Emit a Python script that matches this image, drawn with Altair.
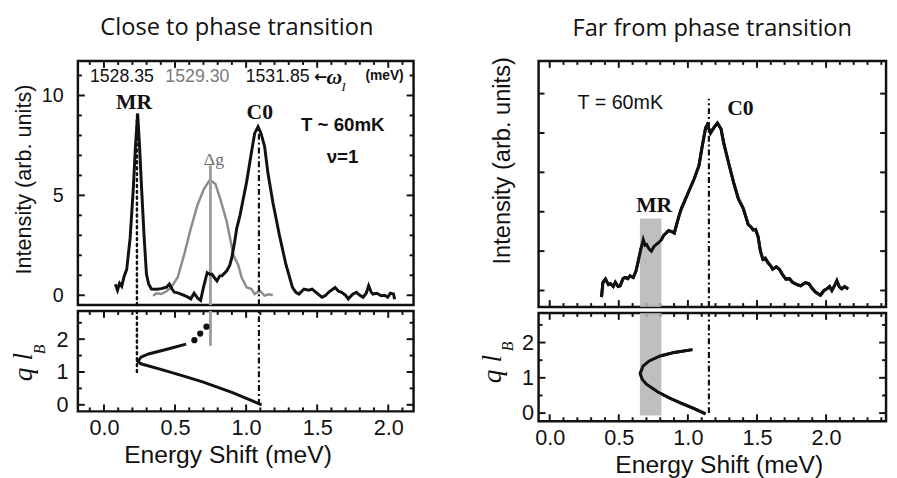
import altair as alt
import pandas as pd

# ---------------- data ----------------
# Left panel, upper: black spectrum (energy shift meV, intensity)
L_black_x = [0.080, 0.095, 0.110, 0.125, 0.140, 0.160, 0.184, 0.206, 0.222, 0.237, 0.250, 0.265, 0.283,
             0.299, 0.315, 0.334, 0.370, 0.403, 0.440, 0.460, 0.480, 0.495, 0.520, 0.542, 0.580, 0.611,
             0.634, 0.660, 0.680, 0.700, 0.726, 0.745, 0.760, 0.780, 0.795, 0.815, 0.830, 0.864, 0.885,
             0.899, 0.920, 0.934, 0.957, 0.975, 1.003, 1.037, 1.060, 1.084, 1.105, 1.130, 1.153, 1.188,
             1.234, 1.280, 1.326, 1.350, 1.372, 1.407, 1.440, 1.465, 1.500, 1.534, 1.560, 1.580, 1.626,
             1.650, 1.672, 1.700, 1.719, 1.750, 1.776, 1.800, 1.823, 1.845, 1.862, 1.880, 1.892, 1.920,
             1.950, 1.975, 1.996, 2.015, 2.037, 2.045]
L_black_y = [0.55, 0.25, 0.60, 0.45, 0.90, 1.30, 2.86, 5.30, 7.50, 9.10, 7.50, 5.30, 2.86,
             1.05, 0.55, 0.31, 0.30, 0.33, 0.40, 0.56, 0.30, 0.15, 0.12, 0.06, -0.05, -0.18,
             0.10, -0.15, -0.26, 0.40, 1.13, 1.05, 1.05, 0.85, 0.72, 0.97, 0.97, 1.22, 1.50,
             1.87, 2.70, 3.35, 4.00, 4.66, 5.65, 7.13, 8.10, 8.44, 8.10, 7.45, 6.14, 4.66,
             3.02, 1.54, 0.39, 0.15, 0.06, 0.31, 0.25, 0.31, 0.10, -0.10, 0.00, 0.15, 0.39,
             0.20, 0.15, 0.00, -0.18, 0.05, 0.15, 0.00, -0.10, 0.10, 0.48, 0.15, 0.06, 0.10,
             -0.02, 0.00, -0.10, 0.10, 0.06, -0.20]
# Left panel, upper: grey spectrum
L_gray_x = [0.345, 0.370, 0.403, 0.440, 0.472, 0.518, 0.564, 0.611, 0.657, 0.703, 0.745, 0.784,
            0.818, 0.864, 0.911, 0.945, 0.968, 1.003, 1.037, 1.060, 1.096, 1.130, 1.160, 1.188]
L_gray_y = [-0.02, 0.10, 0.06, 0.20, 0.39, 0.89, 2.03, 3.35, 4.50, 5.32, 5.78, 5.57,
            4.83, 3.68, 2.00, 1.50, 0.90, 0.40, 0.31, 0.06, 0.23, -0.02, 0.05, 0.00]
# Left panel, lower: dispersion q*l_B vs energy
L_q_x = [0.578, 0.450, 0.313, 0.260, 0.239, 0.260, 0.400, 0.550, 0.694, 0.900, 1.109]
L_q_y = [1.85, 1.70, 1.55, 1.45, 1.32, 1.25, 1.08, 0.89, 0.70, 0.38, 0.00]
L_dot_x = [0.636, 0.677, 0.721]
L_dot_y = [1.97, 2.17, 2.38]

# Right panel, upper: spectrum
R_x = [0.375, 0.385, 0.404, 0.425, 0.440, 0.460, 0.475, 0.495, 0.510, 0.530, 0.546, 0.565, 0.582,
       0.605, 0.625, 0.641, 0.660, 0.677, 0.690, 0.701, 0.720, 0.736, 0.755, 0.772, 0.790, 0.808,
       0.825, 0.843, 0.860, 0.879, 0.902, 0.920, 0.938, 0.955, 0.974, 1.009, 1.045, 1.080, 1.104,
       1.128, 1.140, 1.164, 1.187, 1.214, 1.240, 1.259, 1.294, 1.330, 1.365, 1.401, 1.437, 1.455,
       1.472, 1.490, 1.508, 1.525, 1.543, 1.560, 1.579, 1.600, 1.614, 1.640, 1.662, 1.685, 1.709,
       1.735, 1.757, 1.790, 1.816, 1.850, 1.876, 1.900, 1.923, 1.959, 1.985, 2.006, 2.025, 2.042,
       2.065, 2.078, 2.095, 2.113, 2.135, 2.160]
R_y = [-0.17, 0.20, 0.29, 0.15, 0.17, 0.10, 0.21, 0.10, 0.12, 0.30, 0.33, 0.30, 0.37,
       0.33, 0.50, 0.75, 1.05, 1.29, 1.15, 1.17, 1.05, 1.00, 1.12, 1.17, 1.22, 1.29,
       1.40, 1.46, 1.52, 1.50, 1.46, 1.70, 1.92, 2.10, 2.25, 2.54, 2.83, 3.17, 3.67,
       4.13, 4.21, 4.00, 4.13, 4.25, 4.10, 3.75, 3.25, 2.75, 2.33, 2.08, 1.67, 1.62,
       1.54, 1.55, 1.37, 1.00, 0.79, 0.82, 0.71, 0.62, 0.54, 0.60, 0.54, 0.40, 0.29,
       0.30, 0.21, 0.15, 0.12, 0.20, 0.17, 0.05, -0.04, -0.12, 0.00, 0.04, 0.10, 0.00,
       0.15, 0.25, 0.10, 0.04, 0.10, 0.04]
# Right panel, lower: dispersion
R_q_x = [1.033, 0.902, 0.800, 0.720, 0.675, 0.655, 0.670, 0.700, 0.783, 0.870, 0.950, 1.050, 1.128]
R_q_y = [1.80, 1.72, 1.62, 1.48, 1.33, 1.12, 0.95, 0.82, 0.60, 0.42, 0.28, 0.12, -0.02]

# marker positions
L_MR, L_DG, L_C0 = 0.232, 0.749, 1.09
L_MR_top, L_DG_top, L_C0_top = 9.0, 6.5, 8.4
L_MR_low, L_DG_low, L_C0_low = 1.0, 1.8, 0.0
R_C0, R_C0_top = 1.152, 4.87
R_band = [0.653, 0.808]
R_band_top, R_band_low = 1.83, -0.07

# axis domains and ticks
LX = [-0.1835, 2.178]
LU_Y = [-0.49, 11.73]
LL_Y = [-0.2, 2.86]
RX = [-0.0805, 2.434]
RU_Y = [-0.42, 5.83]
RL_Y = [-0.23, 2.84]
X_LABELS = [0.0, 0.5, 1.0, 1.5, 2.0]
L_XMINOR = [-0.1, 0.1, 0.2, 0.3, 0.4, 0.6, 0.7, 0.8, 0.9, 1.1, 1.2, 1.3, 1.4, 1.6, 1.7, 1.8, 1.9, 2.1]
R_XMINOR = [0.1, 0.2, 0.3, 0.4, 0.6, 0.7, 0.8, 0.9, 1.1, 1.2, 1.3, 1.4, 1.6, 1.7, 1.8, 1.9, 2.1, 2.2, 2.3, 2.4]
LU_YMAJOR = [0, 5, 10]
LU_YMINOR = [1, 2, 3, 4, 6, 7, 8, 9, 11]
Q_MAJOR = [0, 1, 2]
Q_MINOR = [0.5, 1.5, 2.5]
RU_YMAJOR = [0, 1, 2, 3, 4, 5]

INK = "#111111"
GRAY = "#8c8c8c"
SANS = "Liberation Sans"
SERIF = "Liberation Serif"

LW, LUH, LLH = 341, 248, 102
RW, RUH, RLH = 353, 250, 110


def sc(dom):
    return alt.Scale(domain=dom, nice=False, zero=False)


def xenc(dom, axis):
    return alt.X("x:Q", scale=sc(dom), axis=axis)


def yenc(dom, axis):
    return alt.Y("y:Q", scale=sc(dom), axis=axis)


def line(xs, ys, xd, yd, xa, ya, **kw):
    df = pd.DataFrame({"x": xs, "y": ys, "i": range(len(xs))})
    return alt.Chart(df).mark_line(**kw).encode(x=xenc(xd, xa), y=yenc(yd, ya), order="i:Q")


def vrule(x, y0, y1, xd, yd, xa, ya, **kw):
    df = pd.DataFrame({"x": [x], "y": [y0], "y2": [y1]})
    return alt.Chart(df).mark_rule(**kw).encode(x=xenc(xd, xa), y=yenc(yd, ya), y2="y2:Q")


def texts(ts, xs, ys, xd, yd, xa, ya, **kw):
    df = pd.DataFrame({"x": xs, "y": ys, "t": ts})
    return alt.Chart(df).mark_text(baseline="middle", align="center", **kw).encode(
        x=xenc(xd, xa), y=yenc(yd, ya), text="t:N")


def xticks(vals, ln, H, xd, yd, xa, ya, top=True, bottom=True):
    """Inward tick marks on the top/bottom frame edges, drawn through the scales."""
    unit = (yd[1] - yd[0]) / H * ln
    out = []
    ends = ([(yd[1], yd[1] - unit)] if top else []) + ([(yd[0], yd[0] + unit)] if bottom else [])
    for y0, y1 in ends:
        df = pd.DataFrame({"x": vals, "y": [y0] * len(vals), "y2": [y1] * len(vals)})
        out.append(alt.Chart(df).mark_rule(color=INK, strokeWidth=2).encode(
            x=xenc(xd, xa), y=yenc(yd, ya), y2="y2:Q"))
    return out


def yticks(vals, ln, W, xd, yd, xa, ya):
    """Inward tick marks on the left/right frame edges, drawn through the scales."""
    unit = (xd[1] - xd[0]) / W * ln
    out = []
    for x0, x1 in ((xd[0], xd[0] + unit), (xd[1], xd[1] - unit)):
        df = pd.DataFrame({"y": vals, "x": [x0] * len(vals), "x2": [x1] * len(vals)})
        out.append(alt.Chart(df).mark_rule(color=INK, strokeWidth=2).encode(
            y=yenc(yd, ya), x=xenc(xd, xa), x2="x2:Q"))
    return out


def xaxis_bottom(title_x):
    return alt.Axis(values=X_LABELS, format=".1f", ticks=False, domain=False, grid=False,
                    labelPadding=7, labelFontSize=22, labelFont=SANS, labelColor=INK,
                    title="Energy Shift (meV)", titleFont=SANS, titleFontSize=25,
                    titleFontWeight="normal", titleColor=INK, titlePadding=4, titleX=title_x)


# ---------------- left upper ----------------
lu_ya = alt.Axis(values=LU_YMAJOR, ticks=False, domain=False, grid=False, labelPadding=15,
                 labelFontSize=20, labelFont=SANS, labelColor=INK,
                 title="Intensity (arb. units)", titleFont=SANS, titleFontSize=22,
                 titleFontWeight="normal", titleColor=INK, titlePadding=6, titleY=120)
A = dict(xd=LX, yd=LU_Y, xa=None, ya=lu_ya)
lu_layers = [line(L_gray_x, L_gray_y, color=GRAY, strokeWidth=2.5, **A)]
lu_layers += xticks(X_LABELS, 7, LUH, top=True, bottom=False, **A)
lu_layers += xticks(L_XMINOR, 4, LUH, top=True, bottom=False, **A)
lu_layers += yticks(LU_YMAJOR, 7, LW, **A)
lu_layers += yticks(LU_YMINOR, 4, LW, **A)
lu_layers += [
    vrule(L_DG, LU_Y[0], L_DG_top, color="#a0a0a0", strokeWidth=3, **A),
    vrule(L_MR, LU_Y[0], L_MR_top, color=INK, strokeWidth=2.5, strokeDash=[2, 4], strokeCap="round", **A),
    vrule(L_C0, LU_Y[0], L_C0_top, color=INK, strokeWidth=2.2, strokeDash=[6, 3, 2, 3], **A),
    line(L_black_x, L_black_y, color=INK, strokeWidth=3, **A),
    texts(["1528.35", "1531.85"], [0.126, 1.222], [10.9, 10.9], color=INK, font=SANS, fontSize=18, **A),
    texts(["1529.30"], [0.657], [10.9], color="#7a7a7a", font=SANS, fontSize=18, **A),
    texts(["\u2190"], [1.524], [10.9], color=INK, font="DejaVu Sans", fontSize=16, fontWeight="bold", **A),
    texts(["\u03c9"], [1.62], [10.9], color=INK, font=SERIF, fontSize=22, fontStyle="italic", fontWeight="bold", **A),
    texts(["I"], [1.686], [10.41], color=INK, font=SERIF, fontSize=13, fontStyle="italic", **A),
    texts(["(meV)"], [1.974], [10.98], color=INK, font=SANS, fontSize=14, fontWeight="bold", **A),
    texts(["MR", "C0"], [0.212, 1.096], [9.67, 9.16], color=INK, font=SERIF, fontSize=22, fontWeight="bold", **A),
    texts(["T ~ 60mK", "\u03bd=1"], [1.68, 1.678], [8.52, 6.9], color=INK, font=SANS, fontSize=19, fontWeight="bold", **A),
    texts(["\u0394g"], [0.774], [6.75], color="#6f6f6f", font=SERIF, fontSize=18, **A),
]
left_upper = alt.layer(*lu_layers).properties(
    width=LW, height=LUH,
    title=alt.TitleParams("Close to phase transition", font="Open Sans", fontSize=24, fontWeight="normal",
                          color=INK, anchor="middle", frame="group", offset=20, dx=-9))

# ---------------- left lower ----------------
ll_xa = xaxis_bottom(152)
ll_ya = alt.Axis(values=Q_MAJOR, ticks=False, domain=False, grid=False, labelPadding=10,
                 labelFontSize=22, labelFont=SANS, labelColor=INK, title=None)
B = dict(xd=LX, yd=LL_Y, xa=ll_xa, ya=ll_ya)
ll_layers = [line(L_q_x, L_q_y, color=INK, strokeWidth=3, **B)]
ll_layers += xticks(X_LABELS, 7, LLH, **B)
ll_layers += xticks(L_XMINOR, 4, LLH, **B)
ll_layers += yticks(Q_MAJOR, 7, LW, **B)
ll_layers += yticks(Q_MINOR, 4, LW, **B)
ll_layers += [
    vrule(L_DG, L_DG_low, LL_Y[1], color="#a0a0a0", strokeWidth=3, **B),
    vrule(L_MR, L_MR_low, LL_Y[1], color=INK, strokeWidth=2.5, strokeDash=[2, 4], strokeCap="round", **B),
    vrule(L_C0, L_C0_low, LL_Y[1], color=INK, strokeWidth=2.2, strokeDash=[6, 3, 2, 3], **B),
    alt.Chart(pd.DataFrame({"x": L_dot_x, "y": L_dot_y})).mark_circle(color=INK, opacity=1, size=40).encode(
        x=xenc(LX, ll_xa), y=yenc(LL_Y, ll_ya)),
    alt.Chart(pd.DataFrame({"t": ["q l"]})).mark_text(angle=270, font=SERIF, fontStyle="italic", fontSize=28,
                                                      color=INK, align="center", baseline="alphabetic").encode(
        text="t:N", x=alt.value(-47), y=alt.value(57)),
    alt.Chart(pd.DataFrame({"t": ["B"]})).mark_text(angle=270, font=SERIF, fontStyle="italic", fontSize=16,
                                                    color=INK, align="center", baseline="alphabetic").encode(
        text="t:N", x=alt.value(-33), y=alt.value(39)),
]
left_lower = alt.layer(*ll_layers).properties(width=LW, height=LLH)

# ---------------- right upper ----------------
ru_ya = alt.Axis(labels=False, ticks=False, domain=False, grid=False,
                 title="Intensity (arb. units)", titleFont=SANS, titleFontSize=24,
                 titleFontWeight="normal", titleColor=INK, titlePadding=25, titleY=101)
C = dict(xd=RX, yd=RU_Y, xa=None, ya=ru_ya)
band_u = pd.DataFrame({"x": [R_band[0]], "x2": [R_band[1]], "y": [RU_Y[0]], "y2": [R_band_top]})
ru_layers = [line(R_x, R_y, color=INK, strokeWidth=3, **C)]
ru_layers += xticks(X_LABELS, 7, RUH, **C)
ru_layers += xticks(R_XMINOR, 4, RUH, **C)
ru_layers += yticks(RU_YMAJOR, 6, RW, **C)
ru_layers += [
    alt.Chart(band_u).mark_rect(color="#b4b4b4", opacity=0.85).encode(
        x=xenc(RX, None), x2="x2:Q", y=yenc(RU_Y, ru_ya), y2="y2:Q"),
    vrule(R_C0, RU_Y[0], R_C0_top, color=INK, strokeWidth=2.2, strokeDash=[6, 3, 2, 3], **C),
    line(R_x, R_y, color=INK, strokeWidth=3, **C),
    texts(["T = 60mK"], [0.511], [4.77], color=INK, font=SANS, fontSize=20, **C),
    texts(["C0", "MR"], [1.38, 0.756], [4.63, 2.17], color=INK, font=SERIF, fontSize=22, fontWeight="bold", **C),
]
right_upper = alt.layer(*ru_layers).properties(
    width=RW, height=RUH,
    title=alt.TitleParams("Far from phase transition", font="Open Sans", fontSize=24, fontWeight="normal",
                          color=INK, anchor="middle", frame="group", offset=16, dx=0))

# ---------------- right lower ----------------
rl_xa = xaxis_bottom(183)
rl_ya = alt.Axis(values=Q_MAJOR, ticks=False, domain=False, grid=False, labelPadding=5,
                 labelFontSize=22, labelFont=SANS, labelColor=INK, title=None)
D = dict(xd=RX, yd=RL_Y, xa=rl_xa, ya=rl_ya)
band_l = pd.DataFrame({"x": [R_band[0]], "x2": [R_band[1]], "y": [R_band_low], "y2": [RL_Y[1]]})
rl_layers = [line(R_q_x, R_q_y, color=INK, strokeWidth=3, **D)]
rl_layers += xticks(X_LABELS, 7, RLH, **D)
rl_layers += xticks(R_XMINOR, 4, RLH, **D)
rl_layers += yticks(Q_MAJOR, 7, RW, **D)
rl_layers += yticks(Q_MINOR, 4, RW, **D)
rl_layers += [
    alt.Chart(band_l).mark_rect(color="#b4b4b4", opacity=0.85).encode(
        x=xenc(RX, rl_xa), x2="x2:Q", y=yenc(RL_Y, rl_ya), y2="y2:Q"),
    vrule(R_C0, 0.0, RL_Y[1], color=INK, strokeWidth=2.2, strokeDash=[6, 3, 2, 3], **D),
    line(R_q_x, R_q_y, color=INK, strokeWidth=3, **D),
    alt.Chart(pd.DataFrame({"t": ["q l"]})).mark_text(angle=270, font=SERIF, fontStyle="italic", fontSize=28,
                                                      color=INK, align="center", baseline="alphabetic").encode(
        text="t:N", x=alt.value(-38.5), y=alt.value(57)),
    alt.Chart(pd.DataFrame({"t": ["B"]})).mark_text(angle=270, font=SERIF, fontStyle="italic", fontSize=16,
                                                    color=INK, align="center", baseline="alphabetic").encode(
        text="t:N", x=alt.value(-25.5), y=alt.value(34)),
]
right_lower = alt.layer(*rl_layers).properties(width=RW, height=RLH)

left_col = alt.vconcat(left_upper, left_lower, spacing=0).resolve_scale(x="independent", y="independent")
right_col = alt.vconcat(right_upper, right_lower, spacing=0).resolve_scale(x="independent", y="independent")

chart = alt.concat(left_col, right_col, columns=2, align="none", spacing=62).resolve_scale(
    x="independent", y="independent"
).properties(
    padding={"left": 0, "top": 3, "right": 0, "bottom": 0},
    background="white",
).configure_view(
    stroke=INK, strokeWidth=2.5
)

chart.save("out.html", embed_options={"renderer": "svg", "actions": False})
